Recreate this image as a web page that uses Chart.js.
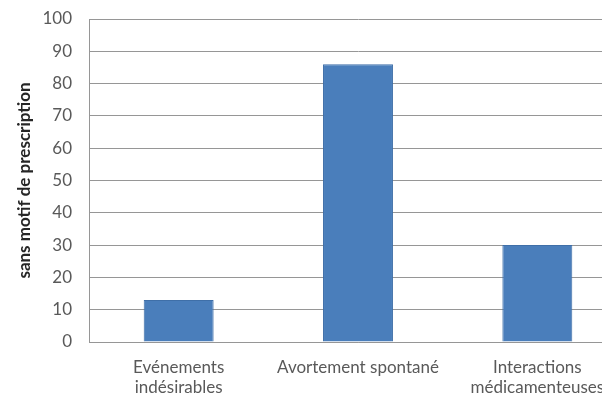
<!DOCTYPE html>
<html>
<head>
<meta charset="utf-8">
<script src="https://cdn.jsdelivr.net/npm/chart.js@4"></script>
<style>
  html, body { margin: 0; padding: 0; background: #fff; overflow: hidden; }
  #wrap { width: 630px; height: 401px; }
</style>
</head>
<body>
<div id="wrap"><canvas id="canvas"></canvas></div>
<script>
"use strict";

const categories = [
  ["Evénements", "indésirables"],
  "Avortement spontané",
  ["Interactions", "médicamenteuses"]
];
const values = [13, 86, 30];
const yTicks = [0, 10, 20, 30, 40, 50, 60, 70, 80, 90, 100];

const textColor = "#595959";
const gridColor = "#969696";

const canvas = document.getElementById("canvas");
canvas.width = 630;
canvas.height = 401;
const ctx = canvas.getContext("2d");

new Chart(ctx, {
  type: "bar",
  data: {
    labels: categories,
    datasets: [{
      label: "sans motif de prescription",
      data: values,
      backgroundColor: "#4a7ebb",
      borderColor: "#3f6fa8",
      borderWidth: 1,
      barPercentage: 0.39,
      categoryPercentage: 1
    }]
  },
  options: {
    responsive: false,
    maintainAspectRatio: false,
    animation: false,
    layout: { padding: { top: 19, left: 14, right: 3, bottom: 0 } },
    plugins: {
      legend: { display: false },
      tooltip: { enabled: false }
    },
    scales: {
      x: {
        grid: { display: false, drawTicks: false },
        border: { color: gridColor, width: 1 },
        ticks: {
          color: textColor,
          font: { family: "Lato", size: 17, lineHeight: 1.2 },
          padding: 15,
          maxRotation: 0,
          autoSkip: false
        },
        afterFit: scale => { scale.height = 59; }
      },
      y: {
        min: 0,
        max: 100,
        afterBuildTicks: scale => {
          scale.ticks = yTicks.map(v => ({ value: v }));
        },
        grid: { color: gridColor, drawTicks: false },
        border: { color: gridColor, width: 1 },
        ticks: {
          color: textColor,
          font: { family: "Lato", size: 17 },
          padding: 17
        },
        title: {
          display: true,
          text: "sans motif de prescription",
          color: "#262626",
          font: { family: "Lato", size: 17, weight: "bold" },
          padding: { top: 0, bottom: 0 }
        },
        afterFit: scale => {
          scale.width = 75;
          scale.paddingTop = 0;
          scale.paddingBottom = 0;
        }
      }
    }
  }
});
</script>
</body>
</html>
